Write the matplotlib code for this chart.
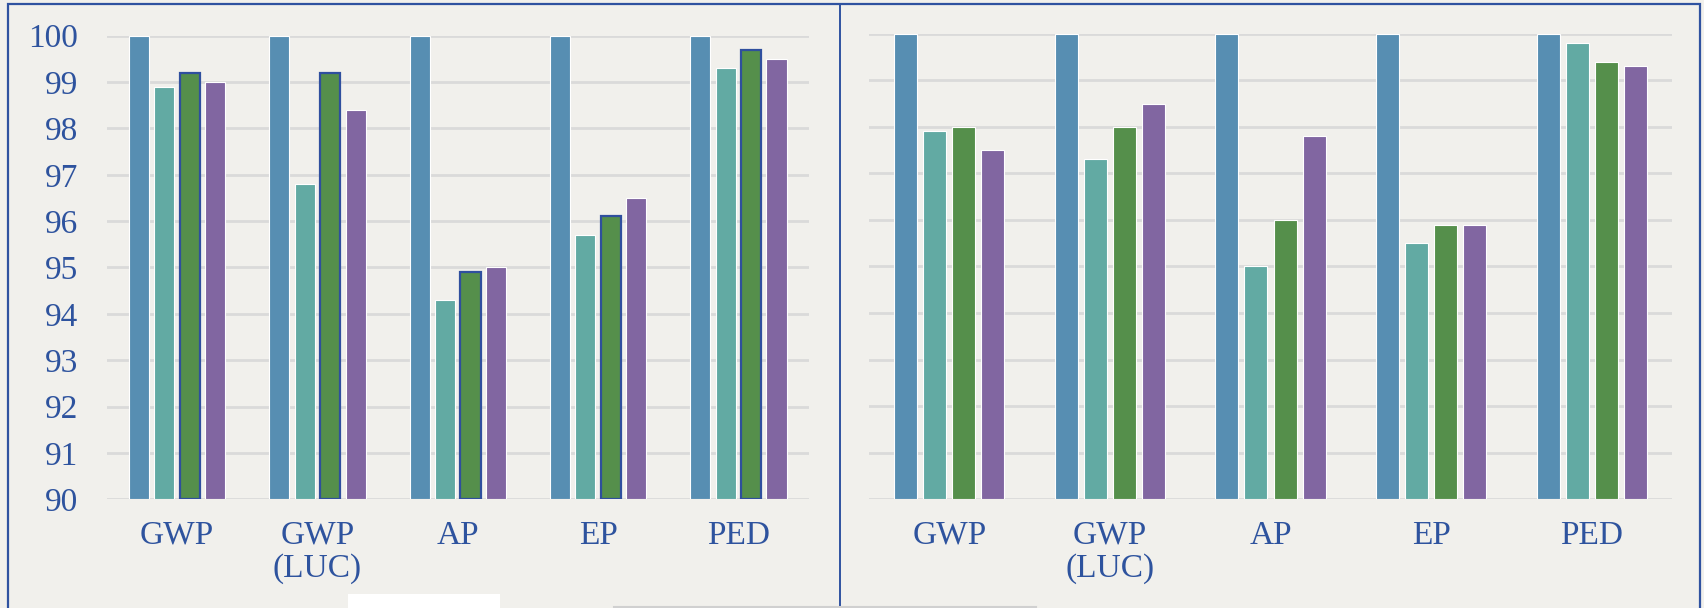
import matplotlib
matplotlib.use('agg')
import matplotlib.pyplot as plt
from matplotlib.patches import Rectangle
from matplotlib.lines import Line2D
import numpy as np

categories = ['GWP', 'GWP\n(LUC)', 'AP', 'EP', 'PED']
y_ticks = [90, 91, 92, 93, 94, 95, 96, 97, 98, 99, 100]

# left panel, four series per category
left_s1 = [100, 100, 100, 100, 100]
left_s2 = [98.9, 96.8, 94.3, 95.7, 99.3]
left_s3 = [99.2, 99.2, 94.9, 96.1, 99.7]
left_s4 = [99.0, 98.4, 95.0, 96.5, 99.5]

# right panel
right_s1 = [100, 100, 100, 100, 100]
right_s2 = [97.9, 97.3, 95.0, 95.5, 99.8]
right_s3 = [98.0, 98.0, 96.0, 95.9, 99.4]
right_s4 = [97.5, 98.5, 97.8, 95.9, 99.3]

COLORS = ['#578EB2', '#62AAA3', '#558F4B', '#8166A1']
TEXT = '#2E539E'
BG = '#F1F0EC'
GRID = '#DADADA'

plt.rcParams['font.family'] = ['Liberation Serif', 'DejaVu Serif']

fig = plt.figure(figsize=(17.04, 6.08), dpi=100)
fig.patch.set_facecolor(BG)

ax_l = fig.add_axes([0.0628, 0.1788, 0.4117, 0.7625])
ax_r = fig.add_axes([0.5100, 0.1788, 0.4712, 0.7658])


def draw_panel(ax, series, green_edge, show_y):
    ax.set_facecolor(BG)
    x = np.arange(len(categories))
    step, width = 0.181, 0.143
    for i, vals in enumerate(series):
        edge = '#FFFFFF'
        lw = 0.8
        if i == 2 and green_edge:
            edge = '#2F4F9E'
            lw = 1.6
        ax.bar(x + (i - 1.5) * step, np.array(vals) - 90, bottom=90, width=width,
               color=COLORS[i], edgecolor=edge, linewidth=lw, zorder=3)
    ax.set_xlim(-0.5, len(categories) - 0.5)
    ax.set_ylim(90, 100)
    ax.set_yticks(y_ticks)
    ax.yaxis.grid(True, color=GRID, linewidth=2, zorder=0)
    ax.set_axisbelow(True)
    for sp in ax.spines.values():
        sp.set_visible(False)
    ax.set_xticks(x)
    ax.set_xticklabels(categories, fontsize=24, color=TEXT, linespacing=1.1)
    ax.tick_params(axis='x', length=0, pad=15)
    if show_y:
        ax.set_yticklabels([str(t) for t in y_ticks], fontsize=24, color=TEXT)
        ax.tick_params(axis='y', length=0, pad=21)
    else:
        ax.tick_params(axis='y', length=0, labelleft=False)


draw_panel(ax_l, [left_s1, left_s2, left_s3, left_s4], True, True)
draw_panel(ax_r, [right_s1, right_s2, right_s3, right_s4], False, False)

# outer frame and divider
W, H = 1704, 608
fig.add_artist(Rectangle((8 / W, -0.05), (1700 - 8) / W, 1.05 - 4 / H,
                         transform=fig.transFigure, fill=False,
                         edgecolor='#2F52A0', linewidth=1.6))
fig.add_artist(Line2D([840 / W, 840 / W], [0, 1 - 4 / H], transform=fig.transFigure,
                      color='#2F52A0', linewidth=1.4))
# bits of the cut-off legend at the bottom
fig.add_artist(Rectangle((348 / W, 0), 152 / W, 14 / H, transform=fig.transFigure,
                         facecolor='white', edgecolor='none'))
fig.add_artist(Line2D([614 / W, 1036 / W], [1.5 / H, 1.5 / H], transform=fig.transFigure,
                      color='#D0D0D0', linewidth=1.5))

fig.savefig('out.png', dpi=100, facecolor=BG)
